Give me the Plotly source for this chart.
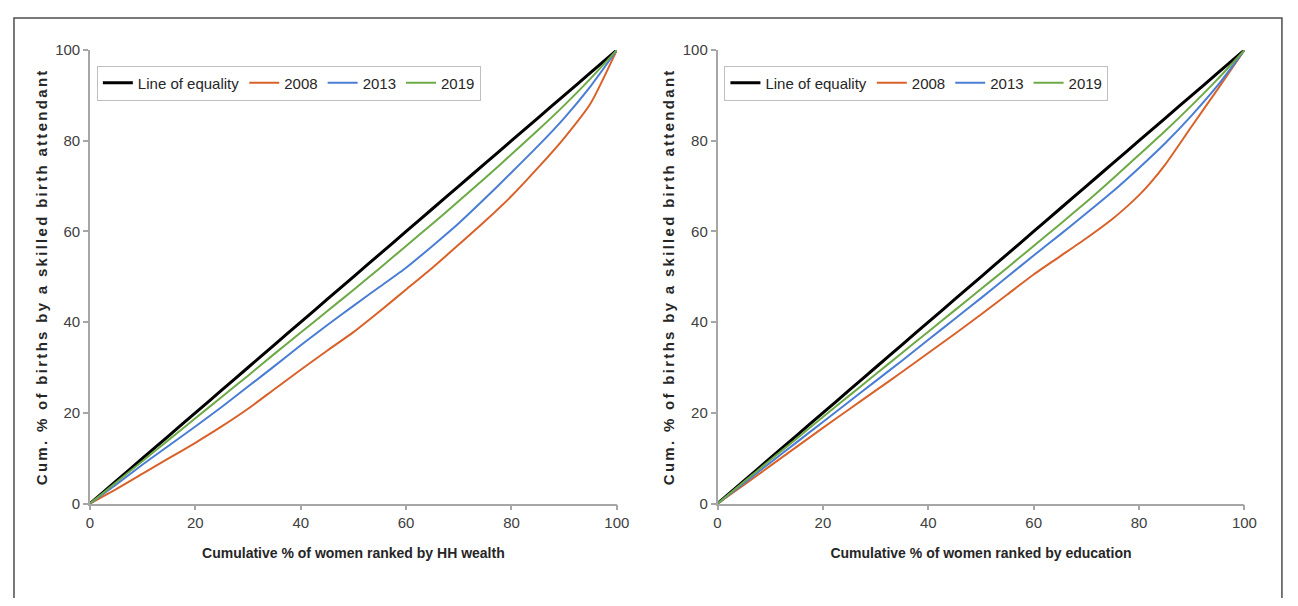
import plotly.graph_objects as go

# ---------------- data ----------------
x_common = [0, 5, 10, 15, 20, 25, 30, 35, 40, 45, 50, 55, 60, 65, 70, 75, 80, 85, 90, 95, 100]
equality = [0, 5, 10, 15, 20, 25, 30, 35, 40, 45, 50, 55, 60, 65, 70, 75, 80, 85, 90, 95, 100]

# Panel 1: ranked by household wealth
wealth_2008 = [0, 3.2, 6.6, 10.0, 13.4, 17.0, 20.9, 25.2, 29.5, 33.7, 37.8, 42.4, 47.2, 52.0, 57.1, 62.3, 67.8, 74.0, 80.6, 88.2, 100]
wealth_2013 = [0, 4.2, 8.6, 12.8, 17.0, 21.3, 25.8, 30.3, 34.9, 39.3, 43.6, 47.8, 52.0, 56.8, 61.8, 67.3, 73.0, 78.8, 85.0, 92.0, 100]
wealth_2019 = [0, 4.7, 9.4, 14.1, 18.8, 23.5, 28.2, 33.0, 37.7, 42.4, 47.1, 51.9, 56.8, 61.7, 66.7, 71.8, 77.0, 82.3, 87.8, 93.7, 100]

# Panel 2: ranked by education
x_edu_2008 = [0, 5, 10, 15, 20, 25, 30, 35, 40, 45, 50, 55, 60, 65, 70, 75, 78, 80, 82, 85, 90, 95, 100]
edu_2008 = [0, 4.1, 8.3, 12.5, 16.7, 20.8, 24.9, 29.0, 33.2, 37.4, 41.7, 46.1, 50.5, 54.5, 58.5, 62.8, 65.8, 68.0, 70.5, 74.8, 83.2, 91.5, 100]
edu_2013 = [0, 4.5, 9.0, 13.5, 18.0, 22.5, 27.0, 31.5, 36.1, 40.7, 45.3, 50.0, 54.7, 59.3, 64.0, 68.8, 74.0, 79.5, 85.6, 92.3, 100]
edu_2019 = [0, 4.8, 9.6, 14.3, 19.1, 23.8, 28.5, 33.2, 37.9, 42.6, 47.3, 52.0, 56.8, 61.6, 66.5, 71.6, 76.9, 82.2, 87.8, 93.7, 100]

tick_vals = [0, 20, 40, 60, 80, 100]
tick_text = ["0", "20", "40", "60", "80", "100"]

series_names = ["Line of equality", "2008", "2013", "2019"]
colors = ["#000000", "#D8622A", "#4A7DD4", "#6DAA45"]
widths = [3, 2, 2, 2]

y_title = "Cum. % of births by a skilled birth attendant"
x_titles = ["Cumulative % of women ranked by HH wealth", "Cumulative % of women ranked by education"]

# ---------------- figure ----------------
fig = go.Figure()

panels = [
    ("x", "y", "legend", [(x_common, equality), (x_common, wealth_2008), (x_common, wealth_2013), (x_common, wealth_2019)]),
    ("x2", "y2", "legend2", [(x_common, equality), (x_edu_2008, edu_2008), (x_common, edu_2013), (x_common, edu_2019)]),
]

for xa, ya, lg, data in panels:
    for (xs, ys), name, c, w in zip(data, series_names, colors, widths):
        fig.add_trace(go.Scatter(
            x=xs, y=ys, name=name, mode="lines",
            line=dict(color=c, width=w, shape="spline", smoothing=0.6),
            xaxis=xa, yaxis=ya, legend=lg, hoverinfo="x+y+name",
        ))

FONT = "Liberation Sans, Arial, sans-serif"
axis_common = dict(
    range=[0, 100], tickvals=tick_vals, ticktext=tick_text,
    showgrid=False, zeroline=False, showline=True,
    linecolor="#A6A6A6", linewidth=1.5,
    ticks="outside", ticklen=5, tickcolor="#A6A6A6", tickwidth=1.5,
    tickfont=dict(family=FONT, size=15, color="#404040"),
)

title_font_x = dict(family=FONT, size=14, color="#262626")
title_font_y = dict(family=FONT, size=15, color="#262626")

# page offset (browser body margin) = 8 px on each side
OFF = 8
W, H = 1298 - 2 * OFF, 606 - 2 * OFF


def px(x):
    return (x - OFF) / W


def py(y):
    return 1 - (y - OFF) / H


dom_y = [py(509), py(42)]
ytitle_text = '<b><span style="letter-spacing:2.3px">' + y_title + '</span></b>'

legend_common = dict(xanchor="left", yanchor="top", orientation="h",
                     bordercolor="#BFBFBF", borderwidth=1, bgcolor="white",
                     font=dict(family=FONT, size=15, color="#262626"),
                     itemwidth=30, tracegroupgap=0)

fig.update_layout(
    width=W, height=H,
    margin=dict(l=0, r=0, t=0, b=0),
    paper_bgcolor="white", plot_bgcolor="white",
    showlegend=True,
    xaxis=dict(axis_common, domain=[px(87), px(621)], anchor="y",
               title=dict(text="<b>" + x_titles[0] + "</b>", font=title_font_x, standoff=18)),
    yaxis=dict(axis_common, domain=dom_y, anchor="x",
               title=dict(text=ytitle_text, font=title_font_y, standoff=4)),
    xaxis2=dict(axis_common, domain=[px(723), px(1257)], anchor="y2",
                title=dict(text="<b>" + x_titles[1] + "</b>", font=title_font_x, standoff=18)),
    yaxis2=dict(axis_common, domain=dom_y, anchor="x2",
                title=dict(text=ytitle_text, font=title_font_y, standoff=4)),
    legend=dict(legend_common, x=px(94), y=py(58)),
    legend2=dict(legend_common, x=px(730), y=py(58)),
    shapes=[dict(type="rect", xref="paper", yref="paper",
                 x0=px(10), x1=px(1295), y0=-0.2, y1=py(9),
                 line=dict(color="#4D4D4D", width=1.5), fillcolor="rgba(0,0,0,0)", layer="below")],
)

fig.write_html("out.html", config={"displayModeBar": False})
